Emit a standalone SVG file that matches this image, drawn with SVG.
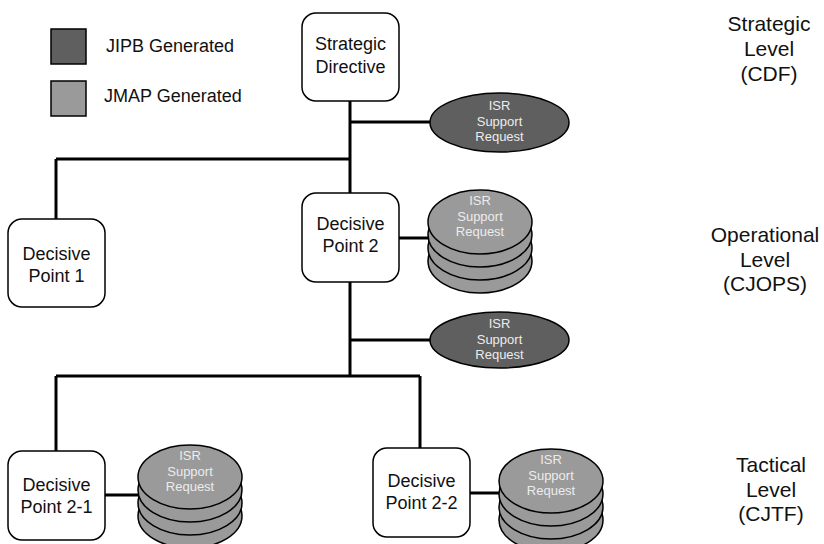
<svg xmlns="http://www.w3.org/2000/svg" width="824" height="544" viewBox="0 0 824 544">
  <style>
    text { font-family: "Liberation Sans", Arial, sans-serif; }
    .node rect { fill: #ffffff; stroke: #000000; stroke-width: 1.5; }
    .label { font-size: 18px; fill: #111111; text-anchor: middle; }
    .level { font-size: 21px; fill: #111111; text-anchor: middle; }
    .legend { font-size: 18px; fill: #111111; }
    .jipb { fill: #5f5f5f; stroke: #000000; stroke-width: 1.5; }
    .jmap { fill: #9a9a9a; stroke: #000000; stroke-width: 1.5; }
    .isr { font-size: 13px; fill: #ececec; text-anchor: middle; }
    .conn { stroke: #000000; stroke-width: 3; fill: none; }
  </style>
  <defs>
    <!-- stacked disc store: four overlapping discs, top one carries the label -->
    <g id="stack">
      <ellipse class="jmap" cx="0" cy="39" rx="52" ry="32"/>
      <ellipse class="jmap" cx="0" cy="26" rx="52" ry="32"/>
      <ellipse class="jmap" cx="0" cy="13" rx="52" ry="32"/>
      <ellipse class="jmap" cx="0" cy="0" rx="52" ry="32"/>
      <text class="isr" x="0" y="-17">ISR</text>
      <text class="isr" x="0" y="-1.5">Support</text>
      <text class="isr" x="0" y="14">Request</text>
    </g>
  </defs>
  <rect width="824" height="544" fill="#ffffff"/>

  <!-- legend -->
  <g id="legend">
    <rect class="jipb" x="51" y="29" width="35" height="35"/>
    <text class="legend" x="106" y="52">JIPB Generated</text>
    <rect class="jmap" x="51" y="81" width="35" height="35"/>
    <text class="legend" x="104" y="102">JMAP Generated</text>
  </g>

  <!-- connectors -->
  <g id="connectors" class="conn">
    <line x1="350" y1="101" x2="350" y2="193"/>
    <line x1="350" y1="282" x2="350" y2="376"/>
    <line x1="350" y1="122" x2="431" y2="122"/>
    <line x1="56" y1="159" x2="350" y2="159"/>
    <line x1="56" y1="159" x2="56" y2="219"/>
    <line x1="399" y1="238" x2="429" y2="238"/>
    <line x1="350" y1="340" x2="431" y2="340"/>
    <line x1="56" y1="376" x2="420" y2="376"/>
    <line x1="56" y1="376" x2="56" y2="451"/>
    <line x1="420" y1="376" x2="420" y2="448"/>
    <line x1="104" y1="495" x2="139" y2="495"/>
    <line x1="470" y1="493" x2="500" y2="493"/>
  </g>

  <!-- nodes -->
  <g id="strategic-directive" class="node">
    <rect x="302" y="13" width="97" height="88" rx="14"/>
    <text class="label" x="350.5" y="50">Strategic</text>
    <text class="label" x="350.5" y="73">Directive</text>
  </g>

  <g id="isr-strategic">
    <ellipse class="jipb" cx="499.5" cy="122.5" rx="69.5" ry="29.5"/>
    <text class="isr" x="499.5" y="110">ISR</text>
    <text class="isr" x="499.5" y="125.5">Support</text>
    <text class="isr" x="499.5" y="141">Request</text>
  </g>

  <g id="decisive-point-1" class="node">
    <rect x="8" y="219" width="97" height="88" rx="14"/>
    <text class="label" x="56.5" y="260">Decisive</text>
    <text class="label" x="56.5" y="282">Point 1</text>
  </g>

  <g id="decisive-point-2" class="node">
    <rect x="302" y="193" width="97" height="89" rx="14"/>
    <text class="label" x="350.5" y="230">Decisive</text>
    <text class="label" x="350.5" y="252">Point 2</text>
  </g>

  <g id="isr-dp2">
    <use href="#stack" x="480" y="222"/>
  </g>

  <g id="isr-operational">
    <ellipse class="jipb" cx="499.5" cy="340" rx="69.5" ry="28"/>
    <text class="isr" x="499.5" y="328">ISR</text>
    <text class="isr" x="499.5" y="343.5">Support</text>
    <text class="isr" x="499.5" y="359">Request</text>
  </g>

  <g id="decisive-point-2-1" class="node">
    <rect x="8" y="451" width="97" height="89" rx="14"/>
    <text class="label" x="56.5" y="491">Decisive</text>
    <text class="label" x="56.5" y="513">Point 2-1</text>
  </g>

  <g id="isr-dp2-1">
    <use href="#stack" x="190" y="477"/>
  </g>

  <g id="decisive-point-2-2" class="node">
    <rect x="373" y="448" width="97" height="89" rx="14"/>
    <text class="label" x="421.5" y="487">Decisive</text>
    <text class="label" x="421.5" y="509">Point 2-2</text>
  </g>

  <g id="isr-dp2-2">
    <use href="#stack" x="551" y="481"/>
  </g>

  <!-- command levels -->
  <g id="levels">
    <text class="level" x="769" y="31">Strategic</text>
    <text class="level" x="769" y="56">Level</text>
    <text class="level" x="769" y="81">(CDF)</text>
    <text class="level" x="765" y="242">Operational</text>
    <text class="level" x="765" y="267">Level</text>
    <text class="level" x="765" y="291">(CJOPS)</text>
    <text class="level" x="771" y="472">Tactical</text>
    <text class="level" x="771" y="497">Level</text>
    <text class="level" x="771" y="521">(CJTF)</text>
  </g>
</svg>
